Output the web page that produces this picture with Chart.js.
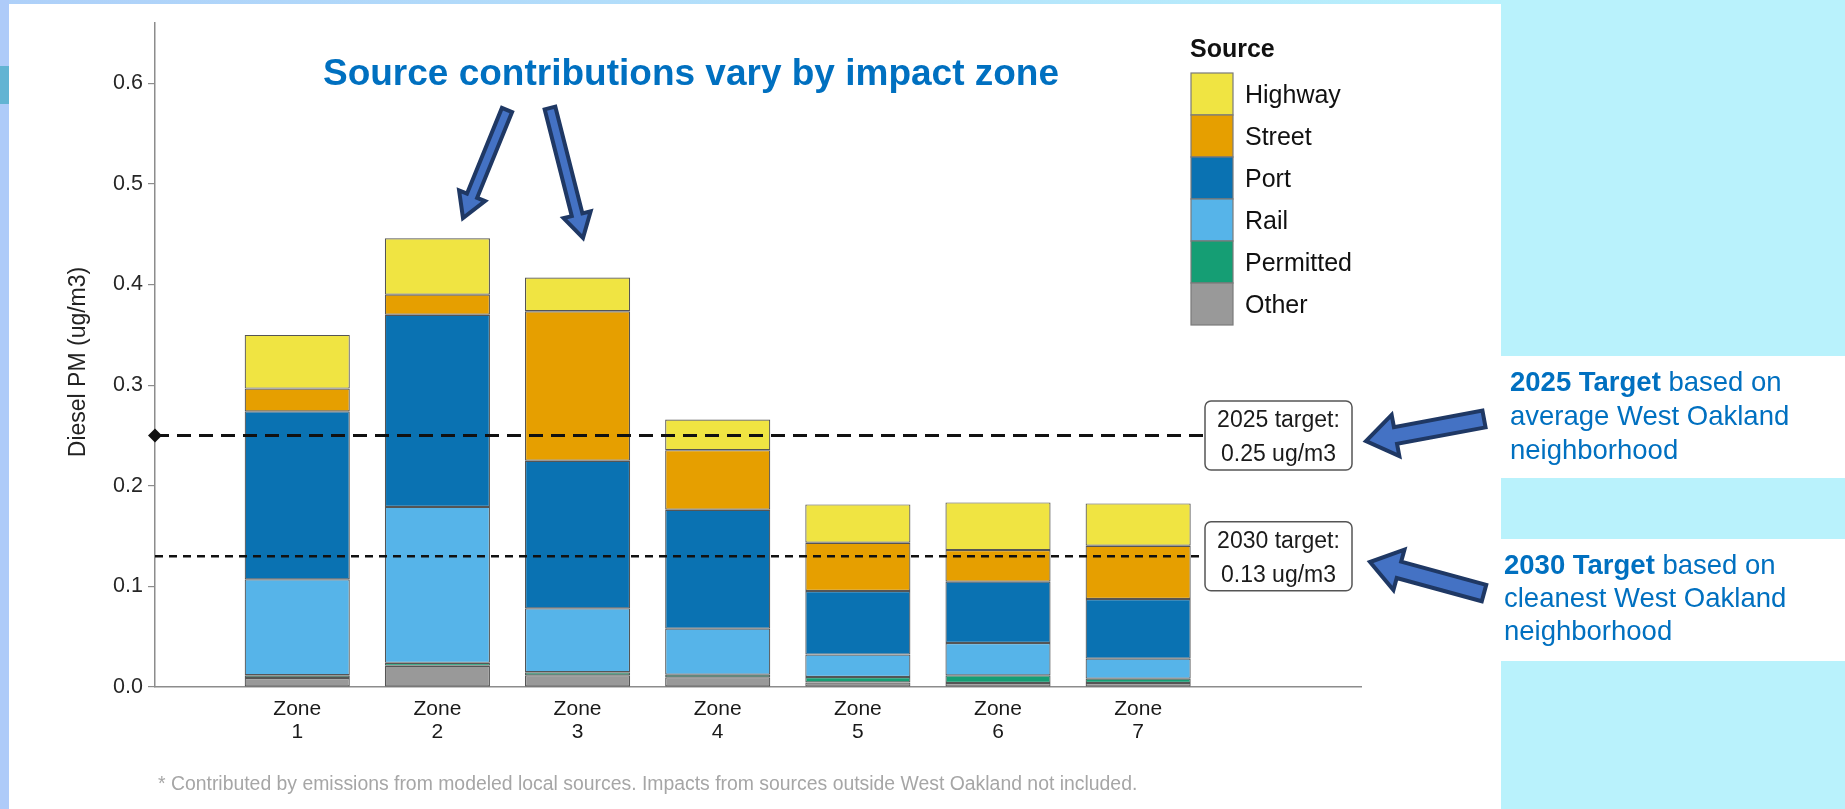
<!DOCTYPE html>
<html>
<head>
<meta charset="utf-8">
<script src="https://cdn.jsdelivr.net/npm/chart.js@4.4.1/dist/chart.umd.min.js"></script>
<style>
  html, body { margin: 0; padding: 0; overflow: hidden; background: #b9f2fc; }
  #wrap { position: absolute; left: 0; top: 0; width: 1845px; height: 809px; }
</style>
</head>
<body>
<div id="wrap"><canvas id="chart"></canvas></div>
<script>
// Данные: вклад источников по зонам (ug/m3), снизу вверх
const zoneLabels = ['Zone 1', 'Zone 2', 'Zone 3', 'Zone 4', 'Zone 5', 'Zone 6', 'Zone 7'];
const sourceNames = ['Other', 'Permitted', 'Rail', 'Port', 'Street', 'Highway'];
const sourceColors = ['#999999', '#159e74', '#56b4e9', '#0a72b2', '#e69f00', '#f0e442'];

const other     = [0.009, 0.021, 0.0116, 0.0096, 0.0044, 0.004, 0.004];
const permitted = [0.0027, 0.003, 0.003, 0.0027, 0.0055, 0.0076, 0.0043];
const rail      = [0.0953, 0.155, 0.0636, 0.0457, 0.0223, 0.0321, 0.0199];
const port      = [0.167, 0.191, 0.1467, 0.1182, 0.0632, 0.061, 0.0592];
const street    = [0.0226, 0.020, 0.1486, 0.0592, 0.048, 0.0314, 0.053];
const highway   = [0.0534, 0.056, 0.0335, 0.0305, 0.0381, 0.0474, 0.0421];
const seriesValues = [other, permitted, rail, port, street, highway];

const yTickValues = [0, 0.1, 0.2, 0.3, 0.4, 0.5, 0.6];
const targetValues = [0.25, 0.13];
const targetText = [['2025 target:', '0.25 ug/m3'], ['2030 target:', '0.13 ug/m3']];

const FONT = '"Liberation Sans", Arial, Helvetica, sans-serif';
const BLUE = '#0070c0';

// блочная стрелка (как в PowerPoint)
function blockArrow(ctx, tx, ty, hx, hy, shaft, head, headLen) {
    const ang = Math.atan2(hy - ty, hx - tx);
    const len = Math.hypot(hx - tx, hy - ty);
    ctx.save();
    ctx.translate(tx, ty);
    ctx.rotate(ang);
    ctx.beginPath();
    ctx.moveTo(0, -shaft / 2);
    ctx.lineTo(len - headLen, -shaft / 2);
    ctx.lineTo(len - headLen, -head / 2);
    ctx.lineTo(len, 0);
    ctx.lineTo(len - headLen, head / 2);
    ctx.lineTo(len - headLen, shaft / 2);
    ctx.lineTo(0, shaft / 2);
    ctx.closePath();
    ctx.fillStyle = '#4472c4';
    ctx.fill();
    ctx.lineWidth = 4;
    ctx.lineJoin = 'miter';
    ctx.strokeStyle = '#1f3864';
    ctx.stroke();
    ctx.restore();
}

function roundRect(ctx, x, y, w, h, r) {
    ctx.beginPath();
    ctx.moveTo(x + r, y);
    ctx.arcTo(x + w, y, x + w, y + h, r);
    ctx.arcTo(x + w, y + h, x, y + h, r);
    ctx.arcTo(x, y + h, x, y, r);
    ctx.arcTo(x, y, x + w, y, r);
    ctx.closePath();
}

const backdrop = {
    id: 'backdrop',
    beforeDraw(chart) {
        const ctx = chart.ctx;
        const W = chart.width, H = chart.height;
        ctx.save();
        ctx.fillStyle = '#b9f2fc';
        ctx.fillRect(0, 0, W, H);
        const g = ctx.createLinearGradient(0, 0, 1500, 0);
        g.addColorStop(0, '#aed0f9');
        g.addColorStop(1, '#b8f0fc');
        ctx.fillStyle = g;
        ctx.fillRect(0, 0, 1501, 4);
        ctx.fillStyle = '#aecbf9';
        ctx.fillRect(0, 0, 9, H);
        ctx.fillStyle = '#62b4d3';
        ctx.fillRect(0, 66, 9, 38);
        ctx.fillStyle = '#ffffff';
        ctx.fillRect(9, 4, 1492, H - 4);
        ctx.fillRect(1501, 356, W - 1501, 122);
        ctx.fillRect(1501, 539, W - 1501, 122);
        ctx.restore();
    }
};

const targets = {
    id: 'targets',
    afterDatasetsDraw(chart) {
        const ctx = chart.ctx;
        const y = chart.scales.y;
        const left = chart.chartArea.left;
        const boxX = 1205, boxW = 147, boxH = 69;
        targetValues.forEach((t, i) => {
            const py = y.getPixelForValue(t);
            ctx.save();
            ctx.strokeStyle = '#111';
            ctx.lineWidth = i === 0 ? 3 : 2.6;
            ctx.setLineDash(i === 0 ? [14, 8] : [8, 6]);
            ctx.beginPath();
            ctx.moveTo(left, py);
            ctx.lineTo(boxX, py);
            ctx.stroke();
            ctx.setLineDash([]);
            if (i === 0) {
                ctx.fillStyle = '#111';
                ctx.beginPath();
                ctx.moveTo(left - 7, py);
                ctx.lineTo(left, py - 7);
                ctx.lineTo(left + 7, py);
                ctx.lineTo(left, py + 7);
                ctx.closePath();
                ctx.fill();
            }
            roundRect(ctx, boxX, py - boxH / 2, boxW, boxH, 6);
            ctx.fillStyle = '#fff';
            ctx.fill();
            ctx.lineWidth = 1.5;
            ctx.strokeStyle = '#555';
            ctx.stroke();
            ctx.fillStyle = '#1a1a1a';
            ctx.font = '23px ' + FONT;
            ctx.textAlign = 'center';
            ctx.textBaseline = 'alphabetic';
            ctx.fillText(targetText[i][0], boxX + boxW / 2, py - 8);
            ctx.fillText(targetText[i][1], boxX + boxW / 2, py + 26);
            ctx.restore();
        });
    }
};

const extras = {
    id: 'extras',
    afterDraw(chart) {
        const ctx = chart.ctx;
        ctx.save();
        // заголовок
        ctx.fillStyle = BLUE;
        ctx.font = 'bold 37px ' + FONT;
        ctx.textAlign = 'center';
        ctx.textBaseline = 'alphabetic';
        ctx.fillText('Source contributions vary by impact zone', 691, 85);

        // подпись оси Y
        ctx.save();
        ctx.translate(79, 362);
        ctx.rotate(-Math.PI / 2);
        ctx.fillStyle = '#222';
        ctx.font = '23px ' + FONT;
        ctx.textAlign = 'center';
        ctx.textBaseline = 'middle';
        ctx.fillText('Diesel PM (ug/m3)', 0, 0);
        ctx.restore();

        // легенда
        ctx.fillStyle = '#111';
        ctx.font = 'bold 25px ' + FONT;
        ctx.textAlign = 'left';
        ctx.fillText('Source', 1190, 57);
        const ds = chart.data.datasets.slice().reverse();
        ds.forEach((d, k) => {
            const top = 73 + k * 42;
            ctx.fillStyle = d.backgroundColor;
            ctx.fillRect(1191, top, 42, 42);
            ctx.strokeStyle = '#7a7a7a';
            ctx.lineWidth = 1.2;
            ctx.strokeRect(1191, top, 42, 42);
            ctx.fillStyle = '#111';
            ctx.font = '25px ' + FONT;
            ctx.textBaseline = 'alphabetic';
            ctx.fillText(d.label, 1245, top + 30);
        });

        // сноска
        ctx.fillStyle = '#a6a6a6';
        ctx.font = '19.4px ' + FONT;
        ctx.fillText('* Contributed by emissions from modeled local sources. Impacts from sources outside West Oakland not included.', 158, 790);

        // пояснения справа
        function mixed(x, y, boldPart, rest) {
            ctx.font = 'bold 27.5px ' + FONT;
            ctx.fillStyle = BLUE;
            ctx.fillText(boldPart, x, y);
            const w = ctx.measureText(boldPart).width;
            ctx.font = '27.5px ' + FONT;
            ctx.fillText(rest, x + w, y);
        }
        mixed(1510, 391, '2025 Target', ' based on');
        ctx.fillText('average West Oakland', 1510, 425);
        ctx.fillText('neighborhood', 1510, 459);
        mixed(1504, 574, '2030 Target', ' based on');
        ctx.fillText('cleanest West Oakland', 1504, 607);
        ctx.fillText('neighborhood', 1504, 640);
        ctx.restore();

        // стрелки
        blockArrow(ctx, 507, 110, 463, 218, 11, 28, 24);
        blockArrow(ctx, 550, 108, 583, 238, 11, 28, 24);
        blockArrow(ctx, 1484, 419, 1366, 441, 17, 42, 30);
        blockArrow(ctx, 1484, 593, 1370, 562, 17, 42, 30);
    }
};

const datasets = sourceNames.map((name, i) => ({
    label: name,
    data: seriesValues[i].map((v, j) => ({ x: j + 1, y: v })),
    backgroundColor: sourceColors[i],
    borderColor: 'rgba(55,55,55,0.85)',
    borderWidth: 1.2,
    borderSkipped: false,
    barPercentage: 0.75,
    categoryPercentage: 1
}));

const ctx = document.getElementById('chart').getContext('2d');
const chart = new Chart(ctx, {
    type: 'bar',
    data: { datasets: datasets },
    options: {
        responsive: true,
        maintainAspectRatio: false,
        animation: false,
        layout: { padding: { top: 23, right: 484, bottom: 0, left: 0 } },
        plugins: {
            legend: { display: false },
            tooltip: { enabled: false },
            title: { display: false }
        },
        scales: {
            x: {
                type: 'linear',
                stacked: true,
                offset: false,
                min: -0.015,
                max: 8.59,
                afterFit: s => { s.height = 122; },
                afterBuildTicks: s => { s.ticks = zoneLabels.map((_, i) => ({ value: i + 1 })); },
                ticks: {
                    autoSkip: false,
                    padding: 11,
                    color: '#1a1a1a',
                    font: { family: FONT, size: 21, lineHeight: 1.1 },
                    callback: v => {
                        const lab = zoneLabels[Math.round(v) - 1];
                        return lab ? lab.split(' ') : '';
                    }
                },
                grid: { offset: false, drawOnChartArea: false, drawTicks: false },
                border: { display: true, color: '#8c8c8c', width: 1.5 }
            },
            y: {
                stacked: true,
                min: 0,
                max: 0.66,
                afterFit: s => { s.width = 155; },
                afterBuildTicks: s => { s.ticks = yTickValues.map(v => ({ value: v })); },
                ticks: {
                    padding: 5,
                    color: '#262626',
                    font: { family: FONT, size: 21.5 },
                    callback: v => v.toFixed(1)
                },
                grid: { drawOnChartArea: false, tickLength: 7, color: '#8c8c8c', lineWidth: 1.2 },
                border: { display: true, color: '#8c8c8c', width: 1.5 }
            }
        }
    },
    plugins: [backdrop, targets, extras]
});
</script>
</body>
</html>
